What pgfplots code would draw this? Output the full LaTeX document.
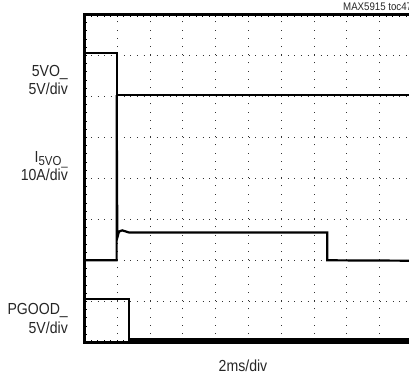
\documentclass[border=0pt]{standalone}
\usepackage{fontspec}
\setmainfont{Liberation Sans}[FakeStretch=0.88]
\usepackage{pgfplots}
\pgfplotsset{compat=1.18}

% scope traces, in divisions (x: 10 div, y: 8 div)
\pgfplotstableread{
x     y
0.00  7.06
0.98  7.06
0.98  6.03
10.00 6.03
}\vout
\pgfplotstableread{
x     y
0.00  2.00
0.98  2.00
0.98  6.03
1.00  2.55
1.05  2.70
1.15  2.73
1.35  2.68
7.40  2.68
7.40  2.00
10.00 1.99
}\iout
\pgfplotstableread{
x     y
0.00  1.06
1.36  1.06
1.36  0.07
10.00 0.07
}\pgood

\begin{document}
\begin{tikzpicture}
\begin{axis}[
    at={(84.5bp,37.7bp)}, anchor=south west,
    scale only axis, width=328bp, height=328bp,
    xmin=0, xmax=10, ymin=0, ymax=8,
    xtick={0,...,10}, ytick={0,...,8},
    xticklabels={}, yticklabels={},
    minor x tick num=4, minor y tick num=4,
    major tick length=2.5bp, minor tick length=2.5bp,
    tick style={black, line width=0.8bp},
    grid=major,
    major x grid style={black!80, line width=1bp, dash pattern=on 1bp off 7.2bp},
    major y grid style={black!80, line width=1bp, dash pattern=on 1bp off 5.56bp},
    axis line style={line width=2.4bp},
    clip=false,
]
\addplot[black, line width=2.2bp] table {\vout};
\addplot[black, line width=2.2bp] table {\iout};
\addplot[black, line width=2.2bp] table {\pgood};
\end{axis}
\begin{scope}[every node/.style={inner sep=0pt, font=\fontsize{16bp}{18bp}\selectfont, text=black!85}]
\node[anchor=base east] at (68bp,303bp) {5VO\_};
\node[anchor=base east] at (68bp,285bp) {5V/div};
\node[anchor=base east] at (68bp,217bp) {I\raisebox{-0.35ex}{\fontsize{13bp}{13bp}\selectfont 5VO\_}};
\node[anchor=base east] at (68bp,199bp) {10A/div};
\node[anchor=base east] at (68bp,65bp) {PGOOD\_};
\node[anchor=base east] at (68bp,46bp) {5V/div};
\node[anchor=base] at (243bp,8.5bp) {2ms/div};
\node[anchor=base west, font=\fontsize{11bp}{11bp}\selectfont] at (343bp,369.5bp) {MAX5915 toc47};
\end{scope}
\pgfresetboundingbox
\path (0,0) rectangle (409bp,380bp);
\end{tikzpicture}
\end{document}
